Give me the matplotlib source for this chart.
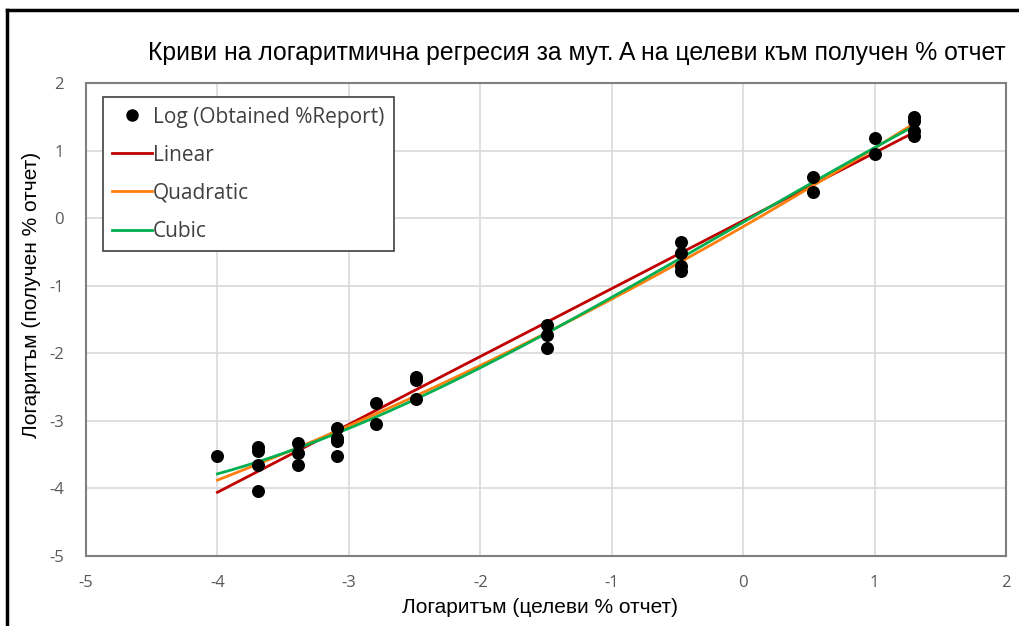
import numpy as np
import matplotlib.pyplot as plt
from matplotlib.lines import Line2D

# log10 of target % report vs. log10 of obtained % report
log_target = [-4.0,
              -3.69, -3.69, -3.69, -3.69,
              -3.39, -3.39, -3.39,
              -3.09, -3.09, -3.09, -3.09,
              -2.79, -2.79,
              -2.49, -2.49, -2.49,
              -1.49, -1.49, -1.49,
              -0.47, -0.47, -0.47, -0.47,
              0.53, 0.53,
              1.0, 1.0,
              1.3, 1.3, 1.3, 1.3]
log_obtained = [-3.52,
                -3.38, -3.45, -3.65, -4.04,
                -3.33, -3.48, -3.65,
                -3.10, -3.25, -3.30, -3.52,
                -2.74, -3.05,
                -2.35, -2.39, -2.68,
                -1.58, -1.73, -1.92,
                -0.36, -0.52, -0.71, -0.78,
                0.61, 0.38,
                1.19, 0.95,
                1.50, 1.44, 1.29, 1.22]

fits = [("Linear", 1, "#c00000"),
        ("Quadratic", 2, "#ff7f0e"),
        ("Cubic", 3, "#00b050")]

plt.rcParams["font.family"] = ["Liberation Sans", "DejaVu Sans"]
plt.rcParams["axes.unicode_minus"] = False

fig = plt.figure(figsize=(10.19, 6.26), dpi=100)
ax = fig.add_axes([0.0844, 0.1118, 0.9028, 0.7556])

x = np.array(log_target)
y = np.array(log_obtained)
ax.scatter(x, y, s=88, color="black", zorder=3, linewidths=0)

xs = np.linspace(x.min(), x.max(), 200)
for name, deg, col in fits:
    coef = np.polyfit(x, y, deg)
    ax.plot(xs, np.polyval(coef, xs), color=col, lw=2, zorder=2)

ax.set_xlim(-5, 2)
ax.set_ylim(-5, 2)
ax.set_xticks(range(-5, 3))
ax.set_yticks(range(-5, 3))
ax.grid(color="#d9d9d9", lw=1.2)
ax.set_axisbelow(True)
for sp in ax.spines.values():
    sp.set_color("#7f7f7f")
    sp.set_linewidth(1.5)
ax.tick_params(length=0, labelsize=12, labelcolor="#595959")
ax.tick_params(axis="x", pad=14)
ax.tick_params(axis="y", pad=16)
for lab in ax.get_xticklabels() + ax.get_yticklabels():
    lab.set_family(["Open Sans", "DejaVu Sans"])

fig.text(0.530, 0.030, "Логаритъм (целеви % отчет)", ha="center", va="center",
         fontsize=15)
fig.text(0.031, 0.529, "Логаритъм (получен % отчет)", ha="center", va="center",
         rotation=90, fontsize=15)
fig.text(0.987, 0.915, "Криви на логаритмична регресия за мут. A на целеви към получен % отчет",
         ha="right", va="center", fontsize=17.8)

handles = [Line2D([], [], ls="none", marker="o", color="black", markersize=8)]
handles += [Line2D([], [], color=c, lw=2) for _, _, c in fits]
labels = ["Log (Obtained %Report)"] + [n for n, _, _ in fits]
leg = ax.legend(handles, labels, loc="upper left", bbox_to_anchor=(0.0185, 0.970),
                borderaxespad=0, fancybox=False, edgecolor="#404040", framealpha=1,
                handlelength=1.9, handletextpad=0.05, labelspacing=0.82,
                borderpad=0.45,
                prop={"family": ["Open Sans", "DejaVu Sans"], "size": 15})
leg.get_frame().set_linewidth(1.2)
for t in leg.get_texts():
    t.set_color("#404040")

# outer frame, left and top edges only
fig.add_artist(Line2D([0.007, 0.007], [0, 0.984], color="black", lw=2.5,
                      transform=fig.transFigure))
fig.add_artist(Line2D([0.007, 1.0], [0.984, 0.984], color="black", lw=2.5,
                      transform=fig.transFigure))

fig.savefig("out.png", dpi=100)
